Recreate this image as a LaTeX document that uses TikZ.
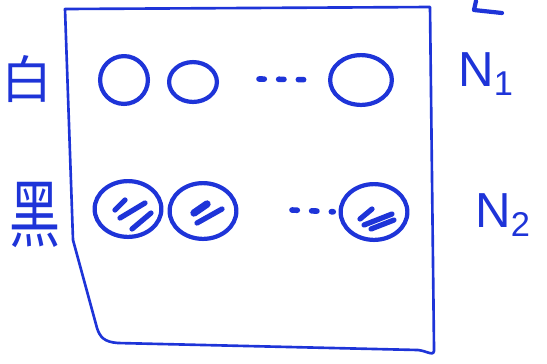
\documentclass[tikz,border=0pt]{standalone}
\usepackage{fontspec}
\newfontfamily\cjk{Noto Sans CJK SC}
\setsansfont{Liberation Sans}
\usetikzlibrary{positioning, calc, shapes.geometric}
\definecolor{cink}{HTML}{1E34D8}
\tikzset{
  every picture/.style={line width=1.7pt},
  ink/.style={draw=cink, line cap=round, line join=round},
  ball/.style={ink, ellipse, inner sep=0pt, line width=2.4pt},
  hatch/.style={ink, line width=3pt},
  gap/.style={ink, line width=3.2pt, dash pattern=on 3pt off 8.2pt},
  side/.style={text=cink, font=\cjk\fontsize{29}{29}\selectfont, inner sep=0pt},
  count/.style={text=cink, font=\sffamily\fontsize{28}{28}\selectfont, inner sep=0pt},
}

\begin{document}
\begin{tikzpicture}[x=0.02cm, y=-0.02cm]
  \useasboundingbox (0,0) rectangle (547,363);
  % frame
  \draw[ink, line width=1.5pt] (65,9) -- (430,7) -- (434,348)
    .. controls (435,358) and (428,351) .. (418,350) -- (118,343)
    .. controls (104,342) and (100,337) .. (97,328) -- (73,240) -- cycle;
  % white row
  \node[ball, minimum width=48pt*0.567, minimum height=48pt*0.567] (w1) at (124,80) {};
  \node[ball, minimum width=48pt*0.567, minimum height=40pt*0.567] (w2) at (193,82) {};
  \node[ball, minimum width=62pt*0.567, minimum height=50pt*0.567] (w3) at (361,80) {};
  \coordinate (wd) at (259,79);
  \draw[gap, shorten >=6pt] (wd) -- (w3.west);
  % black row
  \foreach \n/\x/\y in {b1/128/209, b2/203/211, b3/374/212}
    \node[ball, minimum width=67pt*0.567, minimum height=56pt*0.567] (\n) at (\x,\y) {};
  \coordinate (bd) at (292,210);
  \draw[gap, shorten >=3pt] (bd) -- (b3.west);
  % hatching inside the black ones
  \begin{scope}[shift={(b1.center)}]
    \draw[hatch] (-13,1) -- (-3,-9);
    \draw[hatch] (-8,9) -- (17,-6);
    \draw[hatch] (4,20) -- (23,4);
  \end{scope}
  \begin{scope}[shift={(b2.center)}]
    \draw[hatch, line width=4.2pt] (-9,2) -- (4,-7);
    \draw[hatch] (-6,12) -- (19,-2);
  \end{scope}
  \begin{scope}[shift={(b3.center)}]
    \draw[hatch] (-14,7) -- (-2,-3);
    \draw[hatch] (-10,13) -- (18,2);
    \draw[hatch] (-3,17) -- (20,8);
  \end{scope}
  % labels
  \node[side] (white) at (27,79) {白};
  \node[side, yscale=1.45, transform shape] (black) at (35,215) {黑};
  \node[count] (n1) at (486,74) {N\textsubscript{1}};
  \node[count] (n2) at (503,215) {N\textsubscript{2}};
  \draw[ink, line width=2.4pt] (476,1) -- (474,10) -- (502,13);
\end{tikzpicture}
\end{document}
